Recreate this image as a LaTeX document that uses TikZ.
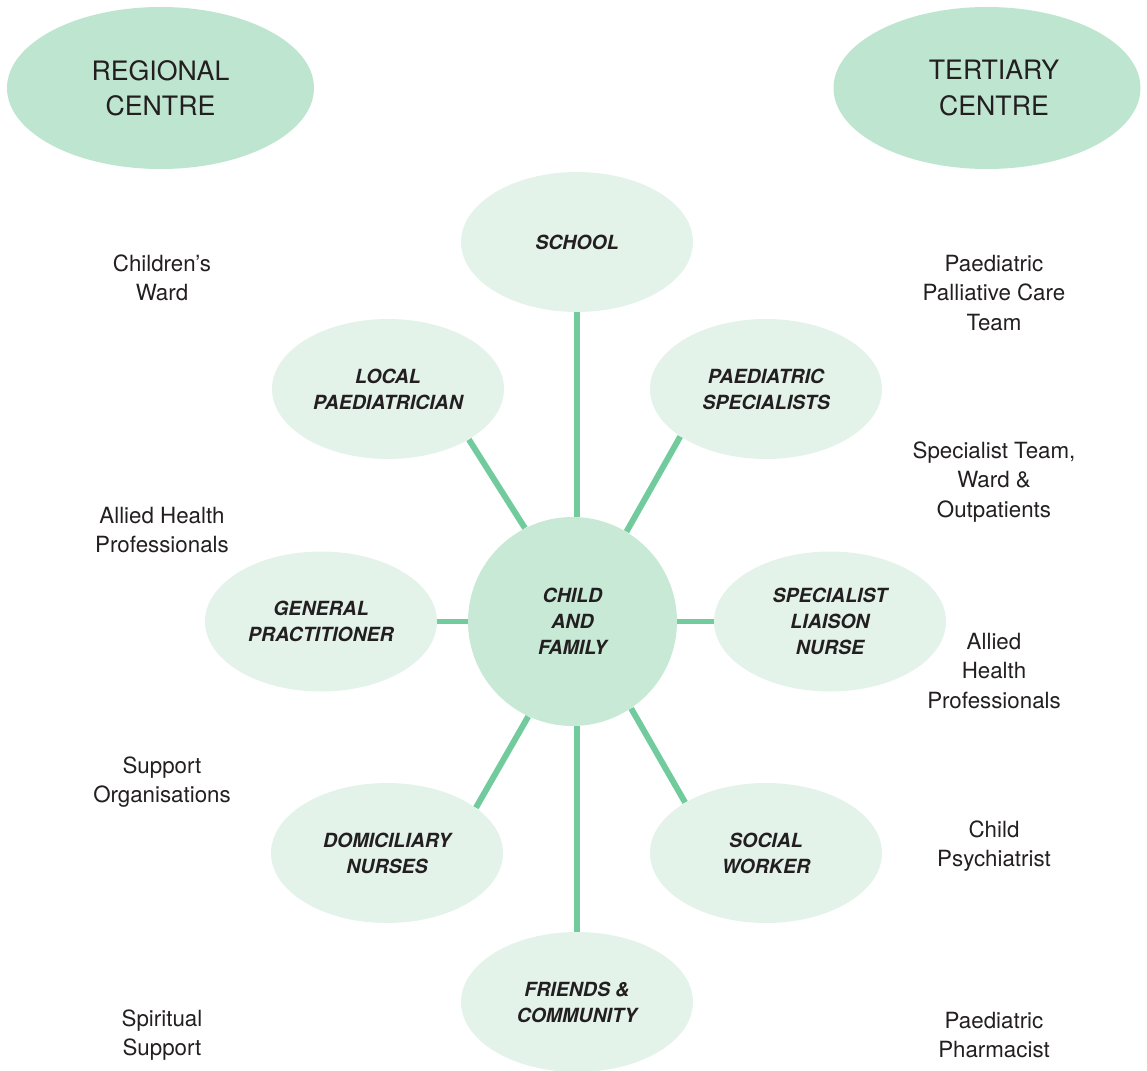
\documentclass[tikz,border=0pt]{standalone}
\usepackage{fontspec}
\setmainfont{TeX Gyre Heros}
\usepackage{xcolor}
\usetikzlibrary{positioning, shapes.geometric}
\definecolor{centregreen}{HTML}{BDE5CF}
\definecolor{hubgreen}{HTML}{C9E9D7}
\definecolor{satgreen}{HTML}{E4F3EA}
\definecolor{spokegreen}{HTML}{72CB9D}
\definecolor{textgrey}{HTML}{231F20}
\tikzset{
    centre/.style={ellipse, fill=centregreen, minimum width=6.14cm, minimum height=3.24cm, inner sep=0pt, align=center, text=textgrey, font=\fontsize{15.2}{20}\selectfont}, % regional / tertiary centre
    hub/.style={circle, fill=hubgreen, minimum size=4.18cm, inner sep=0pt, align=center, text=textgrey, font=\fontsize{11.1}{14.8}\selectfont\bfseries\itshape}, % child and family
    sat/.style={ellipse, fill=satgreen, minimum width=4.64cm, minimum height=2.8cm, inner sep=0pt, align=center, text=textgrey, font=\fontsize{11.1}{14.8}\selectfont\bfseries\itshape}, % the services round the child
    service/.style={align=center, text=textgrey, font=\fontsize{12.7}{16.8}\selectfont}, % text at the sides
    spoke/.style={draw=spokegreen, line width=3.4pt}, % the green links
}

\begin{document}
\begin{tikzpicture}[node distance=2cm, on grid]
                \useasboundingbox (0,0) rectangle (22.94,-21.42);

                % Centri
                \node[centre] (rc) at (3.21,-1.76) {REGIONAL\\CENTRE};
                \node[centre] (tc) at (19.74,-1.76) {\hspace*{0.28cm}TERTIARY\\\hspace*{0.28cm}CENTRE};

                % Bambino e servizi
                \node[hub] (cf) at (11.45,-12.43) {CHILD\\AND\\FAMILY};
                \node[sat] (sch) [above right=7.59cm and 0.09cm of cf] {SCHOOL};
                \node[sat] (lp) [above left=4.65cm and 3.69cm of cf] {LOCAL\\PAEDIATRICIAN};
                \node[sat] (ps) [above right=4.65cm and 3.87cm of cf] {PAEDIATRIC\\SPECIALISTS};
                \node[sat] (gp) [left=5.03cm of cf] {GENERAL\\PRACTITIONER};
                \node[sat] (sln) [right=5.15cm of cf] {SPECIALIST\\LIAISON\\NURSE};
                \node[sat] (dn) [below left=4.63cm and 3.71cm of cf] {DOMICILIARY\\NURSES};
                \node[sat] (sw) [below right=4.63cm and 3.87cm of cf] {SOCIAL\\WORKER};
                \node[sat] (fc) [below right=7.61cm and 0.09cm of cf] {FRIENDS \&\\COMMUNITY};

                % Collegamenti
                \draw[spoke] (sch.south) -- (sch.south |- cf.north);
                \draw[spoke] (fc.north) -- (fc.north |- cf.south);
                \draw[spoke] (cf) -- (gp);
                \draw[spoke] (cf) -- (sln);
                \draw[spoke] (cf.117) -- (lp.-32);
                \draw[spoke] (cf.59) -- (ps.-151);
                \draw[spoke] (cf.-115) -- (dn.27);
                \draw[spoke] (cf.-56) -- (sw.148);

                % Colonna sinistra
                \node[service] (cw) at (3.24,-5.56) {Children’s\\Ward};
                \node[service] (ahl) at (3.24,-10.6) {Allied Health\\Professionals};
                \node[service] (so) at (3.24,-15.64) {Support\\Organisations};
                \node[service] (ss) at (3.24,-20.7) {Spiritual\\Support};

                % Colonna destra
                \node[service] (ppc) at (19.88,-5.86) {Paediatric\\Palliative Care\\Team};
                \node[service] (st) at (19.88,-9.64) {Specialist Team,\\Ward \&\\Outpatients};
                \node[service] (ahr) at (19.88,-13.42) {Allied\\Health\\Professionals};
                \node[service] (cp) at (19.88,-16.92) {Child\\Psychiatrist};
                \node[service] (pp) at (19.88,-20.7) {Paediatric\\Pharmacist};

            \end{tikzpicture}
\end{document}
